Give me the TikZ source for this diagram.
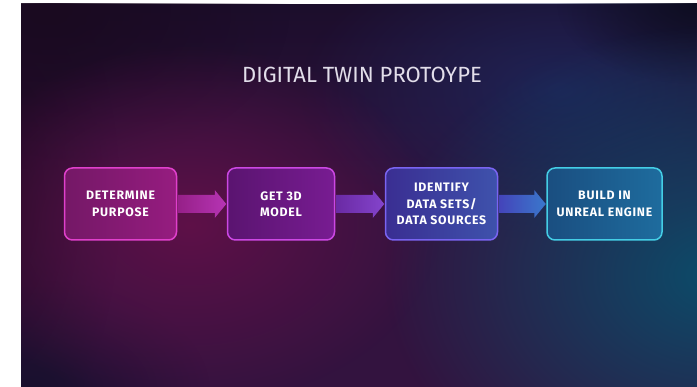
\documentclass[tikz,border=0pt]{standalone}
\usepackage{fontspec}
\setmainfont{Fira Sans}
\newfontfamily\boxfont{Fira Sans}[LetterSpace=6]
\usetikzlibrary{calc,fadings}
\tikzfading[name=softglow, inner color=transparent!0, outer color=transparent!100]
\tikzfading[name=topdown, top color=transparent!0, bottom color=transparent!100]
\definecolor{bgbase}{HTML}{33133F}
\definecolor{topdark}{HTML}{1C0E2C}
\definecolor{glowmag}{HTML}{5E1048}
\definecolor{glowteal}{HTML}{0C4C6A}
\definecolor{glowblue}{HTML}{1E2456}
\definecolor{darktl}{HTML}{1A0A20}
\definecolor{navytr}{HTML}{0E0E22}
\definecolor{leftdark}{HTML}{220A24}
\definecolor{navybl}{HTML}{18102E}
\definecolor{titlecol}{HTML}{E2DEEA}
\definecolor{fillA1}{HTML}{741866}\definecolor{fillA2}{HTML}{961C80}\definecolor{lineA}{HTML}{E040CC}
\definecolor{fillB1}{HTML}{5A1470}\definecolor{fillB2}{HTML}{781C92}\definecolor{lineB}{HTML}{CC48E4}
\definecolor{fillC1}{HTML}{3A2E92}\definecolor{fillC2}{HTML}{3E52AC}\definecolor{lineC}{HTML}{7A64F2}
\definecolor{fillD1}{HTML}{1A4E80}\definecolor{fillD2}{HTML}{1E6C9E}\definecolor{lineD}{HTML}{44CEE6}
\definecolor{arA1}{HTML}{962088}\definecolor{arA2}{HTML}{B634B4}
\definecolor{arB1}{HTML}{6A2AA4}\definecolor{arB2}{HTML}{8444CC}
\definecolor{arC1}{HTML}{4444BA}\definecolor{arC2}{HTML}{3A78CC}
\tikzset{
  stepbox/.style={draw, line width=1.5pt, rounded corners=8pt, minimum height=72pt,
    align=center, text=white, font=\boxfont\bfseries\fontsize{12.3}{16.5}\selectfont},
  flowarrow/.style={draw=none},
}
\begin{document}
\begin{tikzpicture}[x=1pt,y=-1pt]
\useasboundingbox (0,0) rectangle (697,387);
\fill[white] (0,0) rectangle (697,387);
\begin{scope}
\clip (21,4) rectangle (697,387);
\fill[bgbase] (21,4) rectangle (697,387);
\fill[topdark, path fading=topdown] (21,4) rectangle (697,200);
\fill[glowblue, path fading=softglow] (560,90) ellipse (260 and 150);
\fill[leftdark, path fading=softglow] (0,200) ellipse (120 and 260);
\fill[darktl, path fading=softglow] (50,10) ellipse (240 and 160);
\fill[navytr, path fading=softglow] (697,4) ellipse (140 and 80);
\fill[navybl, path fading=softglow] (30,390) ellipse (180 and 110);
\fill[glowmag, path fading=softglow] (190,225) ellipse (250 and 180);
\fill[glowteal, path fading=softglow] (715,275) ellipse (330 and 250);
\end{scope}

\node[text=titlecol, font=\fontsize{22}{26}\selectfont] (title) at (362,75) {DIGITAL TWIN PROTOYPE};

\node[stepbox, draw=lineA, left color=fillA1, right color=fillA2, minimum width=112pt] (b1) at (120.5,204) {DETERMINE\\PURPOSE};
\node[stepbox, draw=lineB, left color=fillB1, right color=fillB2, minimum width=107pt] (b2) at (281,204) {GET 3D\\MODEL};
\node[stepbox, draw=lineC, left color=fillC1, right color=fillC2, minimum width=112pt] (b3) at (441.5,204) {IDENTIFY\\DATA SETS/\\DATA SOURCES};
\node[stepbox, draw=lineD, left color=fillD1, right color=fillD2, minimum width=115pt] (b4) at (604.5,204) {BUILD IN\\UNREAL ENGINE};

\foreach \a/\b/\ca/\cb in {b1/b2/arA1/arA2, b2/b3/arB1/arB2, b3/b4/arC1/arC2}{
  \path[flowarrow, left color=\ca, right color=\cb]
    ($(\a.east)+(0.8,-9)$) -- ($(\b.west)+(-12,-9)$) -- ($(\b.west)+(-12,-14)$) --
    ($(\b.west)+(-0.5,0)$) -- ($(\b.west)+(-12,14)$) -- ($(\b.west)+(-12,9)$) --
    ($(\a.east)+(0.8,9)$) -- cycle;
}
\end{tikzpicture}
\end{document}
